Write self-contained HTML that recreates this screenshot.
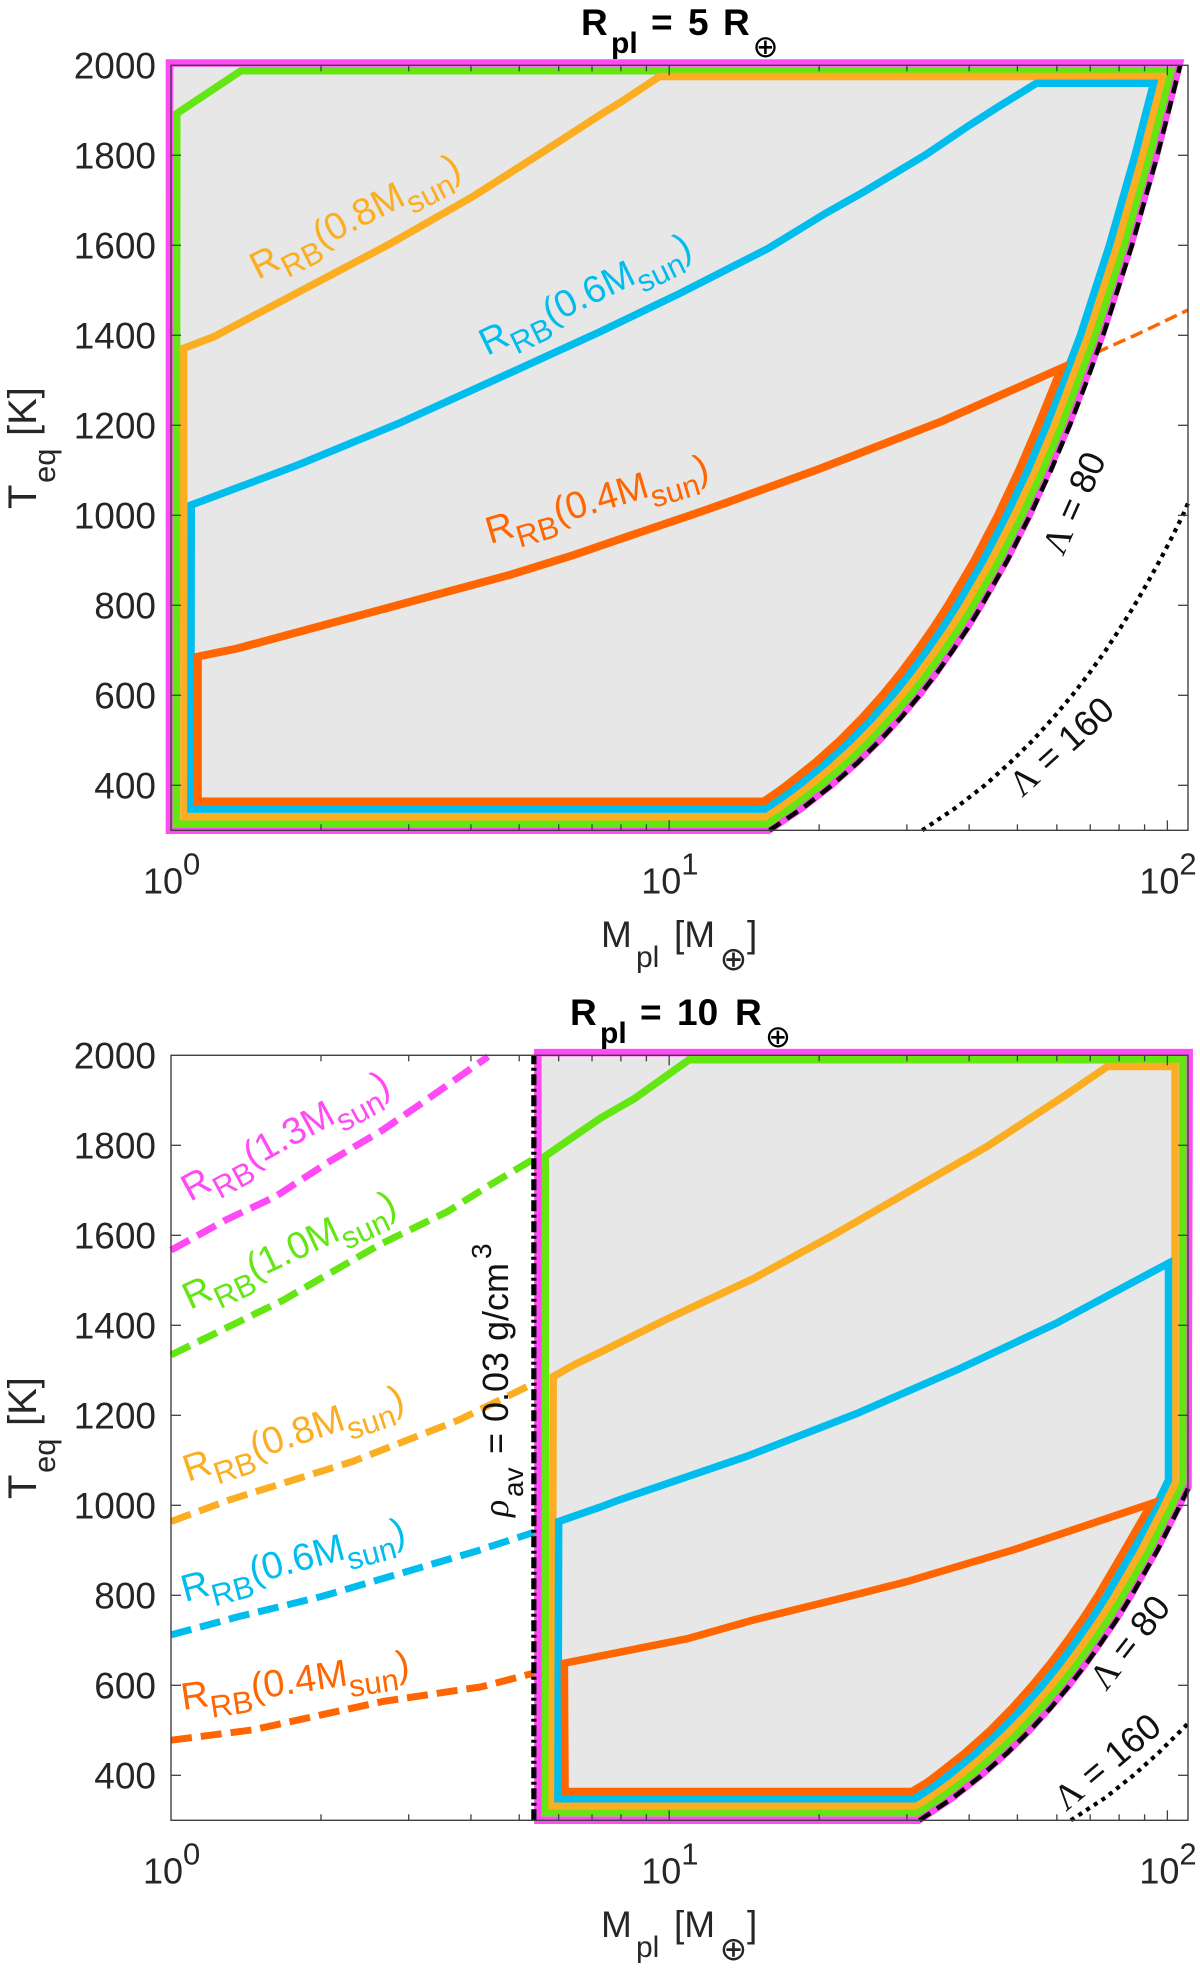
<!DOCTYPE html>
<html lang="en">
<head>
<meta charset="utf-8">
<title>Planet parameter space for RB radius</title>
<style>
html,body{margin:0;padding:0;background:#fff;}
svg{display:block;}
text{font-family:"Liberation Sans",sans-serif;}
</style>
</head>
<body>
<svg id="chart" xmlns="http://www.w3.org/2000/svg" width="1200" height="1970" viewBox="0 0 1200 1970">
<g id="marks"></g>
<g id="axes"></g>

<!-- Panel 1 text -->
<g font-weight="700" fill="#000" font-size="37">
<text x="581" y="35">R</text><text x="611" y="53" font-size="30">pl</text><text x="651" y="35">=</text><text x="688" y="35">5</text><text x="723" y="35">R</text>
<text x="765.5" y="57" font-size="31" font-weight="400" text-anchor="middle" style="font-family:'DejaVu Sans',sans-serif">⊕</text>
</g>
<g fill="#262626" font-size="37">
<text x="601" y="947">M</text><text x="636" y="967" font-size="30">pl</text><text x="674" y="947">[M</text>
<text x="733.5" y="970" font-size="33" text-anchor="middle" style="font-family:'DejaVu Sans',sans-serif">⊕</text>
<text x="747" y="947">]</text>
</g>
<g fill="#262626" font-size="40" transform="translate(36,509) rotate(-90)">
<text x="0" y="0">T</text><text x="26" y="19" font-size="31">eq</text><text x="73" y="0">[K]</text>
</g>
<text transform="translate(258,280) rotate(-27)" fill="#fbae21" font-size="38">R<tspan font-size="31" dy="12">RB</tspan><tspan dy="-12">(0.8M</tspan><tspan font-size="31" dy="12">sun</tspan><tspan dy="-12">)</tspan></text>
<text transform="translate(487,356) rotate(-26)" fill="#00bdee" font-size="38">R<tspan font-size="31" dy="12">RB</tspan><tspan dy="-12">(0.6M</tspan><tspan font-size="31" dy="12">sun</tspan><tspan dy="-12">)</tspan></text>
<text transform="translate(490,544) rotate(-16.5)" fill="#ff6500" font-size="38">R<tspan font-size="31" dy="12">RB</tspan><tspan dy="-12">(0.4M</tspan><tspan font-size="31" dy="12">sun</tspan><tspan dy="-12">)</tspan></text>
<text transform="translate(1063,557) rotate(-66)" fill="#111" font-size="36"><tspan style="font-family:'Liberation Serif',serif">Λ</tspan> = 80</text>
<text transform="translate(1022,798) rotate(-42)" fill="#111" font-size="36"><tspan style="font-family:'Liberation Serif',serif">Λ</tspan> = 160</text>

<!-- Panel 2 text -->
<g font-weight="700" fill="#000" font-size="37">
<text x="570" y="1025">R</text><text x="600" y="1043" font-size="30">pl</text><text x="640" y="1025">=</text><text x="677" y="1025">10</text><text x="735" y="1025">R</text>
<text x="778" y="1047" font-size="31" font-weight="400" text-anchor="middle" style="font-family:'DejaVu Sans',sans-serif">⊕</text>
</g>
<g fill="#262626" font-size="37">
<text x="601" y="1937">M</text><text x="636" y="1957" font-size="30">pl</text><text x="674" y="1937">[M</text>
<text x="733.5" y="1960" font-size="33" text-anchor="middle" style="font-family:'DejaVu Sans',sans-serif">⊕</text>
<text x="747" y="1937">]</text>
</g>
<g fill="#262626" font-size="40" transform="translate(36,1499) rotate(-90)">
<text x="0" y="0">T</text><text x="26" y="19" font-size="31">eq</text><text x="73" y="0">[K]</text>
</g>
<text transform="translate(190,1202) rotate(-28.5)" fill="#ff4af5" font-size="38">R<tspan font-size="31" dy="12">RB</tspan><tspan dy="-12">(1.3M</tspan><tspan font-size="31" dy="12">sun</tspan><tspan dy="-12">)</tspan></text>
<text transform="translate(190,1310) rotate(-25)" fill="#63e611" font-size="38">R<tspan font-size="31" dy="12">RB</tspan><tspan dy="-12">(1.0M</tspan><tspan font-size="31" dy="12">sun</tspan><tspan dy="-12">)</tspan></text>
<text transform="translate(188,1482) rotate(-18.5)" fill="#fbae21" font-size="38">R<tspan font-size="31" dy="12">RB</tspan><tspan dy="-12">(0.8M</tspan><tspan font-size="31" dy="12">sun</tspan><tspan dy="-12">)</tspan></text>
<text transform="translate(185,1602) rotate(-15)" fill="#00bdee" font-size="38">R<tspan font-size="31" dy="12">RB</tspan><tspan dy="-12">(0.6M</tspan><tspan font-size="31" dy="12">sun</tspan><tspan dy="-12">)</tspan></text>
<text transform="translate(183,1710) rotate(-8.5)" fill="#ff6500" font-size="38">R<tspan font-size="31" dy="12">RB</tspan><tspan dy="-12">(0.4M</tspan><tspan font-size="31" dy="12">sun</tspan><tspan dy="-12">)</tspan></text>
<text transform="translate(1106,1692) rotate(-52)" fill="#111" font-size="36"><tspan style="font-family:'Liberation Serif',serif">Λ</tspan> = 80</text>
<text transform="translate(1066,1812) rotate(-40)" fill="#111" font-size="36"><tspan style="font-family:'Liberation Serif',serif">Λ</tspan> = 160</text>
<g fill="#111" font-size="36" transform="translate(508,1517) rotate(-90)">
<text x="0" y="0" style="font-family:'Liberation Serif',serif;font-style:italic">ρ</text>
<text x="20" y="15" font-size="28">av</text>
<text x="63" y="0">=</text>
<text x="95" y="0">0.03</text>
<text x="176" y="0">g/cm</text>
<text x="258" y="-17" font-size="28">3</text>
</g>
</svg>
<script>
// ---- axis data ----
const yTickValues = [400, 600, 800, 1000, 1200, 1400, 1600, 1800, 2000];
const xMajorTicks = [1, 10, 100];
const xMinorTicks = [2, 3, 4, 5, 6, 7, 8, 9, 20, 30, 40, 50, 60, 70, 80, 90];
const xTickBases = ["10", "10", "10"];
const xTickExponents = ["0", "1", "2"];

// ---- panel 1 (Rpl = 5 Rearth): planet mass M, temperature T ----
const p1MagentaM = [0.993, 15.83, 18.47, 21.1, 23.75, 26.4, 29, 31.7, 34.3, 36.9, 39.6, 42.2, 47.5, 52.8, 63.3, 73.9, 84.4, 95, 105.8, 0.993];
const p1MagentaT = [300, 300, 350, 400, 450, 500, 550, 600, 650, 700, 750, 800, 900, 1000, 1200, 1400, 1600, 1800, 2005, 2005];
const p1GreenM = [1.025, 1.027, 1.382, 101.7, 92.1, 81.85, 71.6, 61.3, 56.18, 51.05, 45.92, 40.75, 38.18, 35.6, 33.03, 30.45, 27.87, 25.29, 22.71, 20.12, 17.52, 15.7];
const p1GreenT = [314, 1893, 1988, 1988, 1800, 1600, 1400, 1200, 1100, 1000, 900, 800, 750, 700, 650, 600, 550, 500, 450, 400, 350, 314];
const p1OrangeM = [1.062, 1.06, 1.22, 2.76, 4.03, 5.59, 7.27, 7.94, 9.56, 97.7, 89.1, 79.2, 69.2, 59.2, 54.2, 49.25, 44.26, 39.25, 36.75, 34.23, 31.73, 29.22, 26.7, 24.18, 21.66, 19.13, 16.59, 15.57];
const p1OrangeT = [330, 1371, 1397, 1604, 1708, 1808, 1890, 1916, 1975, 1975, 1800, 1600, 1400, 1200, 1100, 1000, 900, 800, 750, 700, 650, 600, 550, 500, 450, 400, 350, 330];
const p1BlueM = [1.096, 1.098, 1.8, 2.86, 4.94, 7.27, 10.5, 15.8, 20.6, 24.6, 32.7, 39.7, 45.8, 54.6, 93.8, 86.1, 76.5, 66.9, 57.2, 52.4, 47.5, 42.66, 37.8, 35.36, 32.9, 30.47, 28.04, 25.58, 23.12, 20.65, 18.18, 16.7, 15.55];
const p1BlueT = [347, 1023, 1112, 1204, 1323, 1408, 1493, 1593, 1671, 1719, 1801, 1864, 1908, 1960, 1960, 1800, 1600, 1400, 1200, 1100, 1000, 900, 800, 750, 700, 650, 600, 550, 500, 450, 400, 370, 347];
const p1RedM = [1.132, 1.132, 1.358, 3.12, 4.77, 6.44, 7.27, 8.67, 11.1, 13.03, 19.9, 35.1, 61.3, 55.1, 50.4, 45.7, 41.02, 36.3, 33.93, 31.55, 29.19, 26.81, 24.43, 22.04, 19.63, 17.22, 16.5, 15.48];
const p1RedT = [364, 686, 704, 812, 867, 912, 932, 961, 1001, 1028, 1102, 1208, 1327, 1200, 1100, 1000, 900, 800, 750, 700, 650, 600, 550, 500, 450, 400, 385, 364];
const p1RedDashM = [1.132, 1.358, 3.12, 4.77, 6.44, 7.27, 8.67, 11.1, 13.03, 19.9, 35.1, 61.8, 73.8, 86.5, 109.9];
const p1RedDashT = [686, 704, 812, 867, 912, 932, 961, 1001, 1028, 1102, 1208, 1327, 1367, 1401, 1456];
const p1Lambda80M = [15.9, 18.57, 21.2, 23.87, 26.5, 29.18, 31.8, 34.48, 37.1, 39.79, 42.4, 47.75, 53, 58.4, 63.7, 69, 74.3, 84.9, 95.5, 106.1];
const p1Lambda80T = [300, 350, 400, 450, 500, 550, 600, 650, 700, 750, 800, 900, 1000, 1100, 1200, 1300, 1400, 1600, 1800, 2000];
const p1Lambda160M = [32.2, 37.6, 43, 48.3, 53.7, 59, 64.4, 69.8, 75.2, 80.5, 85.9, 91.2, 96.6, 102, 107.4, 110];
const p1Lambda160T = [300, 350, 400, 450, 500, 550, 600, 650, 700, 750, 800, 850, 900, 950, 1000, 1027];

// ---- panel 2 (Rpl = 10 Rearth) ----
const p2MagentaM = [5.45, 31.66, 36.94, 42.2, 47.5, 52.8, 58, 63.4, 68.6, 73.8, 79.2, 84.4, 95, 105.6, 110, 110.6, 5.45];
const p2MagentaT = [300, 300, 350, 400, 450, 500, 550, 600, 650, 700, 750, 800, 900, 1000, 1040, 2006, 2006];
const p2GreenM = [5.64, 5.64, 7.27, 8.52, 10.96, 107.4, 107.4, 102.1, 91.84, 81.5, 76.36, 71.2, 66.06, 60.9, 55.74, 50.6, 45.42, 40.2, 35.04, 31.5];
const p2GreenT = [317, 1776, 1860, 1904, 1990, 1990, 1052, 1000, 900, 800, 750, 700, 650, 600, 550, 500, 450, 400, 350, 317];
const p2OrangeM = [5.82, 5.85, 6.44, 7.27, 9.82, 14.77, 21.38, 31, 43.4, 61.8, 75.8, 103.6, 103.6, 98.5, 88.52, 78.5, 73.5, 68.5, 63.46, 58.4, 53.4, 48.4, 43.32, 38.3, 33.18, 31.2];
const p2OrangeT = [332, 1286, 1312, 1340, 1412, 1504, 1601, 1704, 1797, 1908, 1975, 1975, 1048, 1000, 900, 800, 750, 700, 650, 600, 550, 500, 450, 400, 350, 332];
const p2BlueM = [5.98, 6, 7.27, 7.94, 14.24, 23.8, 38.35, 59.7, 100.5, 100.5, 95, 85.32, 75.6, 70.72, 65.8, 60.94, 56.1, 51.16, 46.2, 41.3, 36.4, 33.4, 31.1];
const p2BlueT = [348, 964, 996, 1012, 1108, 1204, 1304, 1404, 1538, 1056, 1000, 900, 800, 750, 700, 650, 600, 550, 500, 450, 400, 370, 348];
const p2RedM = [6.18, 6.16, 7.27, 10.92, 14.75, 24.2, 29.9, 49.1, 92.9, 82.04, 72.6, 67.86, 63.1, 58.38, 53.6, 48.86, 44.1, 39.26, 34.4, 33, 30.7];
const p2RedT = [364, 649, 665, 704, 745, 804, 830, 901, 1004, 900, 800, 750, 700, 650, 600, 550, 500, 450, 400, 385, 364];
const p2DashMagentaM = [1, 1.288, 1.62, 2.08, 2.66, 3.18, 4.33];
const p2DashMagentaT = [1567, 1634, 1686, 1764, 1834, 1893, 1997];
const p2DashGreenM = [1, 1.68, 2.04, 2.63, 3.58, 4.37, 5.3];
const p2DashGreenT = [1334, 1456, 1510, 1580, 1652, 1712, 1767];
const p2DashOrangeM = [1, 1.31, 2.31, 3.79, 5.35];
const p2DashOrangeT = [964, 1012, 1097, 1190, 1271];
const p2DashBlueM = [1, 1.36, 2, 4.07, 5.35];
const p2DashBlueT = [712, 752, 797, 897, 940];
const p2DashRedM = [1, 1.46, 2.66, 4.21, 5.35];
const p2DashRedT = [478, 501, 564, 597, 627];
const p2DensityM = [5.35, 5.35];
const p2DensityT = [300, 2000];
const p2Lambda80M = [31.8, 37.14, 42.4, 47.74, 53, 58.36, 63.6, 68.96, 74.2, 79.58, 84.8, 95.5, 106, 110];
const p2Lambda80T = [300, 350, 400, 450, 500, 550, 600, 650, 700, 750, 800, 900, 1000, 1037];
const p2Lambda160M = [64, 75, 85.5, 96, 110];
const p2Lambda160T = [300, 350, 400, 450, 515];

const SVGNS = "http://www.w3.org/2000/svg";
const marks = document.getElementById("marks");
const axes = document.getElementById("axes");
const plotLeft = 171, plotRight = 1188;
const xScale = (plotRight - plotLeft) / Math.log10(110);
const tScale = 0.45;
const panel1Top = 65.3, panel2Top = 1055.3;

function xPos(m) { return plotLeft + xScale * Math.log10(m); }
function yPos(top, t) { return top + (2000 - t) * tScale; }

function pathFrom(top, ms, ts, closed) {
  let d = "";
  for (let i = 0; i < ms.length; i++) {
    d += (i ? "L" : "M") + xPos(ms[i]).toFixed(2) + " " + yPos(top, ts[i]).toFixed(2);
  }
  return closed ? d + "Z" : d;
}

function drawCurve(name, top, ms, ts, closed, color, width, dash, fill) {
  const el = document.createElementNS(SVGNS, "path");
  el.setAttribute("d", pathFrom(top, ms, ts, closed));
  el.setAttribute("fill", fill || "none");
  el.setAttribute("stroke", color);
  el.setAttribute("stroke-width", width);
  el.setAttribute("stroke-linejoin", "miter");
  el.setAttribute("stroke-miterlimit", "3");
  if (dash) el.setAttribute("stroke-dasharray", dash);
  
  
  marks.appendChild(el);
}

const MAGENTA = "#ff4af5", GREEN = "#63e611", ORANGE = "#fbae21", BLUE = "#00bdee", RED = "#ff6500", GRAY = "#e7e7e7";
const BAND = 7.5;

// panel 1
drawCurve("dashed-rb-0.4-panel-1", panel1Top, p1RedDashM, p1RedDashT, false, RED, 3.5, "13 6");
drawCurve("region-rb-1.3-panel-1", panel1Top, p1MagentaM, p1MagentaT, true, MAGENTA, 7.5, null, GRAY);
drawCurve("region-rb-1.0-panel-1", panel1Top, p1GreenM, p1GreenT, true, GREEN, BAND);
drawCurve("region-rb-0.8-panel-1", panel1Top, p1OrangeM, p1OrangeT, true, ORANGE, BAND);
drawCurve("region-rb-0.6-panel-1", panel1Top, p1BlueM, p1BlueT, true, BLUE, BAND);
drawCurve("region-rb-0.4-panel-1", panel1Top, p1RedM, p1RedT, true, RED, 8);
drawCurve("lambda-80-panel-1", panel1Top, p1Lambda80M, p1Lambda80T, false, "#000", 4.5, "13 8");
drawCurve("lambda-160-panel-1", panel1Top, p1Lambda160M, p1Lambda160T, false, "#000", 4.2, "4.2 5");

// panel 2
drawCurve("region-rb-1.3-panel-2", panel2Top, p2MagentaM, p2MagentaT, true, MAGENTA, 7.5, null, GRAY);
drawCurve("dashed-rb-1.3-panel-2", panel2Top, p2DashMagentaM, p2DashMagentaT, false, MAGENTA, 7, "21 9");
drawCurve("dashed-rb-1.0-panel-2", panel2Top, p2DashGreenM, p2DashGreenT, false, GREEN, 7, "21 9");
drawCurve("dashed-rb-0.8-panel-2", panel2Top, p2DashOrangeM, p2DashOrangeT, false, ORANGE, 7, "21 9");
drawCurve("dashed-rb-0.6-panel-2", panel2Top, p2DashBlueM, p2DashBlueT, false, BLUE, 7, "21 9");
drawCurve("dashed-rb-0.4-panel-2", panel2Top, p2DashRedM, p2DashRedT, false, RED, 7, "21 9");
drawCurve("region-rb-1.0-panel-2", panel2Top, p2GreenM, p2GreenT, true, GREEN, BAND);
drawCurve("region-rb-0.8-panel-2", panel2Top, p2OrangeM, p2OrangeT, true, ORANGE, BAND);
drawCurve("region-rb-0.6-panel-2", panel2Top, p2BlueM, p2BlueT, true, BLUE, BAND);
drawCurve("region-rb-0.4-panel-2", panel2Top, p2RedM, p2RedT, true, RED, BAND);
drawCurve("density-limit-panel-2", panel2Top, p2DensityM, p2DensityT, false, "#000", 5.2, "11 3.5 3 3.5");
drawCurve("lambda-80-panel-2", panel2Top, p2Lambda80M, p2Lambda80T, false, "#000", 4.5, "13 8");
drawCurve("lambda-160-panel-2", panel2Top, p2Lambda160M, p2Lambda160T, false, "#000", 4.2, "4.2 5");

function addLine(name, x1, y1, x2, y2) {
  const el = document.createElementNS(SVGNS, "line");
  el.setAttribute("x1", x1);
  el.setAttribute("y1", y1);
  el.setAttribute("x2", x2);
  el.setAttribute("y2", y2);
  el.setAttribute("stroke", "#404040");
  el.setAttribute("stroke-width", "1.3");
  
  
  axes.appendChild(el);
}

function addText(name, x, y, size, anchor, content) {
  const el = document.createElementNS(SVGNS, "text");
  el.setAttribute("x", x);
  el.setAttribute("y", y);
  el.setAttribute("font-size", size);
  el.setAttribute("text-anchor", anchor);
  el.setAttribute("fill", "#262626");
  el.textContent = content;
  
  
  axes.appendChild(el);
}

function drawAxes(top, panelId) {
  const bottom = yPos(top, 300);
  const frame = document.createElementNS(SVGNS, "rect");
  frame.setAttribute("x", plotLeft);
  frame.setAttribute("y", top);
  frame.setAttribute("width", plotRight - plotLeft);
  frame.setAttribute("height", bottom - top);
  frame.setAttribute("fill", "none");
  frame.setAttribute("stroke", "#404040");
  frame.setAttribute("stroke-width", "1.4");
  
  
  axes.appendChild(frame);

  yTickValues.forEach(function (t) {
    const y = yPos(top, t);
    if (t < 2000) {
      addLine("y-tick-left-" + t + "-" + panelId, plotLeft, y, plotLeft + 10, y);
      addLine("y-tick-right-" + t + "-" + panelId, plotRight, y, plotRight - 10, y);
    }
    addText("y-tick-label-" + t + "-" + panelId, 156, y + 13, 37, "end", String(t));
  });

  xMinorTicks.forEach(function (m) {
    const x = xPos(m);
    addLine("x-minor-tick-bottom-" + m + "-" + panelId, x, bottom, x, bottom - 6);
    addLine("x-minor-tick-top-" + m + "-" + panelId, x, top, x, top + 6);
  });

  xMajorTicks.forEach(function (m, i) {
    const x = xPos(m);
    if (i > 0) {
      addLine("x-major-tick-bottom-" + m + "-" + panelId, x, bottom, x, bottom - 10);
      addLine("x-major-tick-top-" + m + "-" + panelId, x, top, x, top + 10);
    }
    addText("x-tick-label-" + m + "-" + panelId, x - 28, bottom + 63, 36, "start", xTickBases[i]);
    addText("x-tick-exponent-" + m + "-" + panelId, x + 12, bottom + 44, 31, "start", xTickExponents[i]);
  });
}

drawAxes(panel1Top, "panel-1");
drawAxes(panel2Top, "panel-2");
</script>
</body>
</html>
